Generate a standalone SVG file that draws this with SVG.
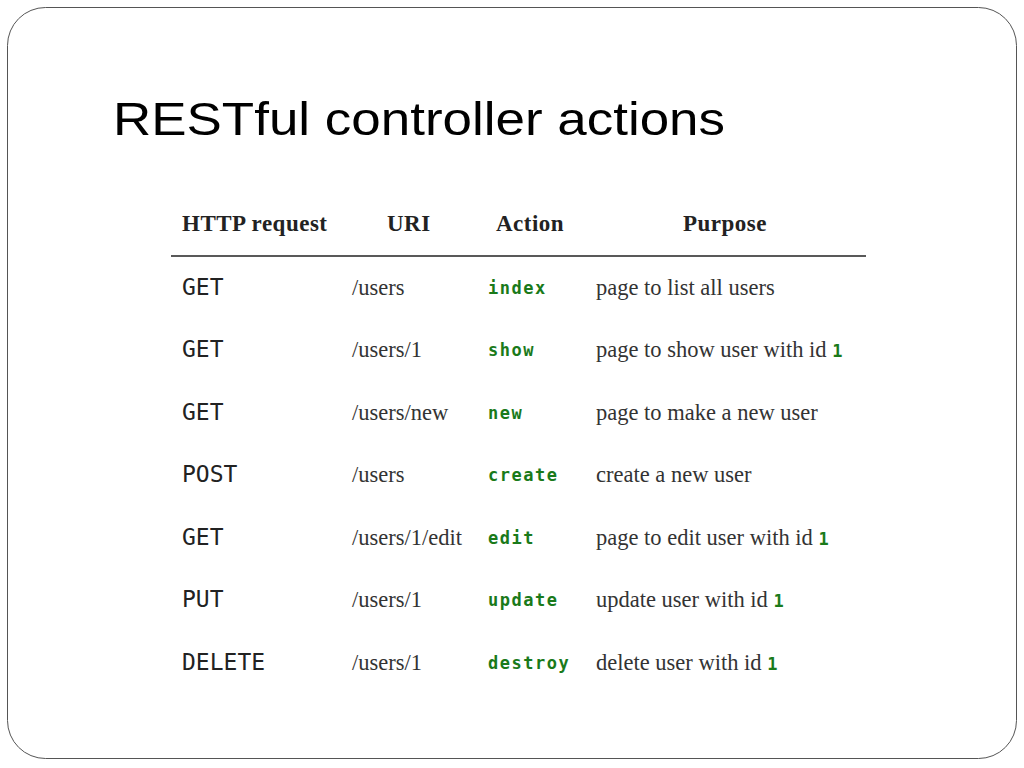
<svg xmlns="http://www.w3.org/2000/svg" width="1024" height="768" viewBox="0 0 1024 768">
<style>
.t{font-family:"Liberation Sans",Arial,sans-serif;font-size:47px;fill:#000}
.h{font-family:"Liberation Serif","Times New Roman",serif;font-size:23px;font-weight:bold;fill:#222;letter-spacing:0.5px}
.m{font-family:"DejaVu Sans Mono",monospace;font-size:23px;fill:#222}
.u{font-family:"Liberation Serif","Times New Roman",serif;font-size:22.5px;fill:#333}
.a{font-family:"DejaVu Sans Mono",monospace;font-size:17px;font-weight:bold;fill:#1a7a1a;letter-spacing:1.5px}
</style>
<rect x="0" y="0" width="1024" height="768" fill="#fff"/>
<rect x="7.5" y="7.5" width="1009" height="751" rx="38" fill="#fff" stroke="#555" stroke-width="1"/>
<text class="t" x="113" y="135" textLength="612" lengthAdjust="spacingAndGlyphs">RESTful controller actions</text>
<g id="table">
<text class="h" x="182" y="231">HTTP request</text>
<text class="h" x="387" y="231">URI</text>
<text class="h" x="496" y="231">Action</text>
<text class="h" x="683" y="231">Purpose</text>
<line x1="171" y1="256" x2="866" y2="256" stroke="#222" stroke-width="1.5"/>
<g id="r1"><text class="m" x="182" y="295">GET</text><text class="u" x="352" y="295">/users</text><text class="a" x="488" y="294">index</text><text class="u" x="596" y="295">page to list all users</text></g>
<g id="r2"><text class="m" x="182" y="357">GET</text><text class="u" x="352" y="357">/users/1</text><text class="a" x="488" y="356">show</text><text class="u" x="596" y="357">page to show user with id <tspan class="a">1</tspan></text></g>
<g id="r3"><text class="m" x="182" y="420">GET</text><text class="u" x="352" y="420">/users/new</text><text class="a" x="488" y="419">new</text><text class="u" x="596" y="420">page to make a new user</text></g>
<g id="r4"><text class="m" x="182" y="482">POST</text><text class="u" x="352" y="482">/users</text><text class="a" x="488" y="481">create</text><text class="u" x="596" y="482">create a new user</text></g>
<g id="r5"><text class="m" x="182" y="545">GET</text><text class="u" x="352" y="545">/users/1/edit</text><text class="a" x="488" y="544">edit</text><text class="u" x="596" y="545">page to edit user with id <tspan class="a">1</tspan></text></g>
<g id="r6"><text class="m" x="182" y="607">PUT</text><text class="u" x="352" y="607">/users/1</text><text class="a" x="488" y="606">update</text><text class="u" x="596" y="607">update user with id <tspan class="a">1</tspan></text></g>
<g id="r7"><text class="m" x="182" y="670">DELETE</text><text class="u" x="352" y="670">/users/1</text><text class="a" x="488" y="669">destroy</text><text class="u" x="596" y="670">delete user with id <tspan class="a">1</tspan></text></g>
</g>
</svg>
